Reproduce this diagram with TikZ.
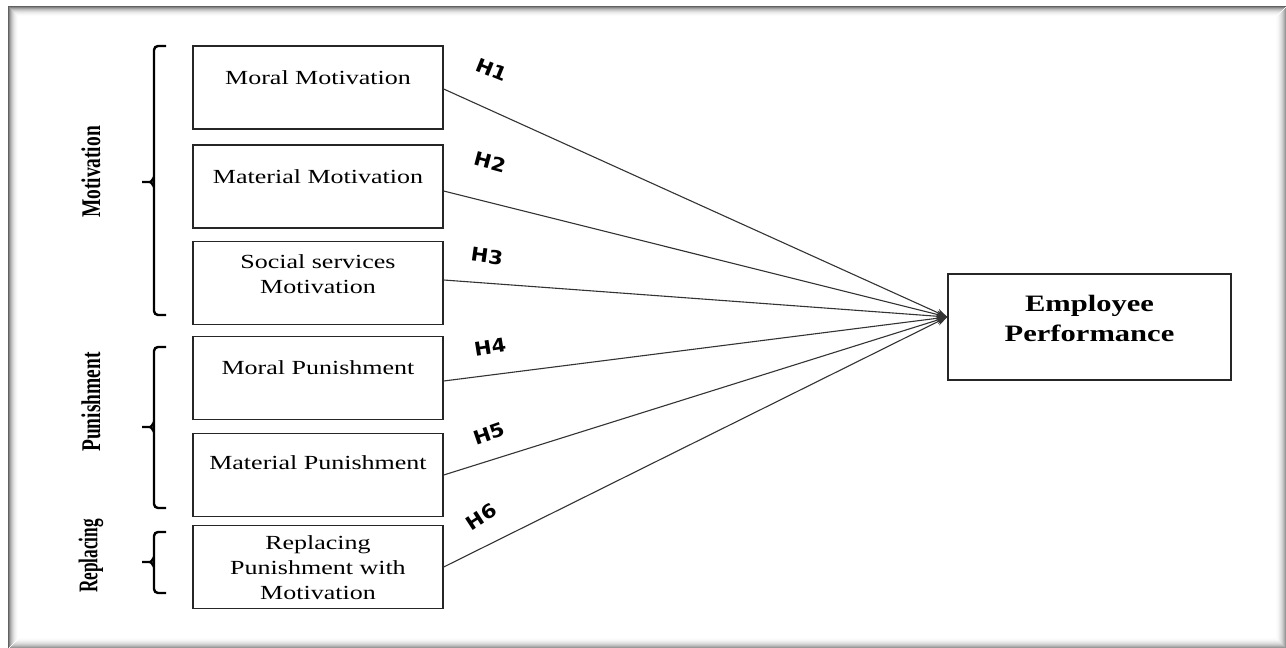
\documentclass[tikz,border=0pt]{standalone}
\usepackage{fontspec}
\usetikzlibrary{arrows.meta,calc}
\setmainfont{Liberation Serif}
\newfontfamily\boxfont[FakeStretch=1.3]{Liberation Serif}
\newfontfamily\sidefont[FakeStretch=0.72]{Liberation Serif}
\newfontfamily\sidefontb[FakeStretch=0.64]{Liberation Serif}
\newfontfamily\hfont[FakeStretch=1.1]{DejaVu Sans}
\tikzset{
  leftbox/.style={draw=black!85, line width=1.4pt, minimum width=250pt, minimum height=83pt, inner sep=0pt},
  epbox/.style={draw=black!85, line width=1.4pt, minimum width=283pt, minimum height=106pt, inner sep=0pt},
  btext/.style={font=\boxfont\fontsize{20}{25}\selectfont, text=black, align=center, inner sep=0pt},
  eptext/.style={font=\boxfont\bfseries\fontsize{23.5}{30}\selectfont, text=black, align=center, inner sep=0pt},
  sidelabel/.style={font=\sidefont\bfseries\fontsize{27}{30}\selectfont, rotate=90, inner sep=0pt},
  hlabel/.style={font=\hfont\bfseries\fontsize{19}{21}\selectfont, inner sep=0pt},
  link/.style={draw=black!80, line width=1.1pt, -{Stealth[length=11pt,width=8pt]}},
  bracket/.style={draw=black, line width=2.4pt, rounded corners=4pt},
  tick/.style={draw=black, line width=2.4pt},
}
\begin{document}
\begin{tikzpicture}[x=1pt,y=-1pt]
\useasboundingbox (0,0) rectangle (1286,648);
\fill[white] (0,0) rectangle (1286,648);
% frame with shadow
\foreach \i/\c in {0/62,1/48,2/36,3/27,4/20,5/14,6/9,7/6,8/3,9/1}{
  \draw[black!\c, line width=1pt] (8.5+\i,647.5-\i) -- (8.5+\i,6.5+\i) -- (1285.5-\i,6.5+\i);
}
\foreach \i/\c in {0/40,1/32,2/25,3/19,4/14,5/10,6/7,7/4,8/2,9/1}{
  \draw[black!\c, line width=1pt] (1285.5-\i,6.5+\i+1) -- (1285.5-\i,647.5-\i) -- (8.5+\i+1,647.5-\i);
}
% left boxes
\node[leftbox] (mm) at (318,87.5) {};
\node[leftbox] (mat) at (318,186.5) {};
\node[leftbox] (soc) at (318,283) {};
\node[leftbox] (mp) at (318,378) {};
\node[leftbox] (matp) at (318,475) {};
\node[leftbox] (rep) at (318,567) {};
\node[btext] (mmt) at (mm.center) [yshift=9.5pt] {Moral Motivation};
\node[btext] (matt) at (mat.center) [yshift=9.5pt] {Material Motivation};
\node[btext] (soct) at (soc.center) [yshift=8.5pt] {Social services\\Motivation};
\node[btext] (mpt) at (mp.center) [yshift=10pt] {Moral Punishment};
\node[btext] (matpt) at (matp.center) [yshift=12pt] {Material Punishment};
\node[btext] (rept) at (rep.center) [yshift=-1pt] {Replacing\\Punishment with\\Motivation};
% target
\node[epbox] (ep) at (1089.5,327) {};
\node[eptext] (ept) at (ep.center) [yshift=9pt] {Employee\\Performance};
\coordinate (tip) at ([yshift=10pt]ep.west);
% links
\draw[link] ([yshift=-1.5pt]mm.east) -- (tip);
\draw[link] ([yshift=-4.5pt]mat.east) -- (tip);
\draw[link] ([yshift=3pt]soc.east) -- (tip);
\draw[link] ([yshift=-3pt]mp.east) -- (tip);
\draw[link] (matp.east) -- (tip);
\draw[link] (rep.east) -- (tip);
% hypothesis labels
\node[hlabel, rotate=-22] (h1) at (492,70) {H1};
\node[hlabel, rotate=-15] (h2) at (490,162) {H2};
\node[hlabel, rotate=-8] (h3) at (487,256) {H3};
\node[hlabel, rotate=9] (h4) at (490,347) {H4};
\node[hlabel, rotate=19] (h5) at (489,434) {H5};
\node[hlabel, rotate=33] (h6) at (481,517) {H6};
% brackets
\draw[bracket] (166,46) -- (154,46) -- (154,315) -- (166,315);
\draw[tick] (154,178) to[out=90,in=0] (150,182) -- (142,182);
\draw[tick] (154,186) to[out=-90,in=0] (150,182);
\draw[bracket] (166,347) -- (154,347) -- (154,508) -- (166,508);
\draw[tick] (154,423) to[out=90,in=0] (150,427) -- (142,427);
\draw[tick] (154,431) to[out=-90,in=0] (150,427);
\draw[bracket] (166,532) -- (154,532) -- (154,593) -- (166,593);
\draw[tick] (154,558) to[out=90,in=0] (150,562) -- (142,562);
\draw[tick] (154,566) to[out=-90,in=0] (150,562);
% side labels
\node[sidelabel] (lmot) at (91,172) {Motivation};
\node[sidelabel] (lpun) at (91,402) {Punishment};
\node[sidelabel, font=\sidefontb\bfseries\fontsize{27}{30}\selectfont] (lrep) at (91,556) {Replacing};
\end{tikzpicture}
\end{document}
